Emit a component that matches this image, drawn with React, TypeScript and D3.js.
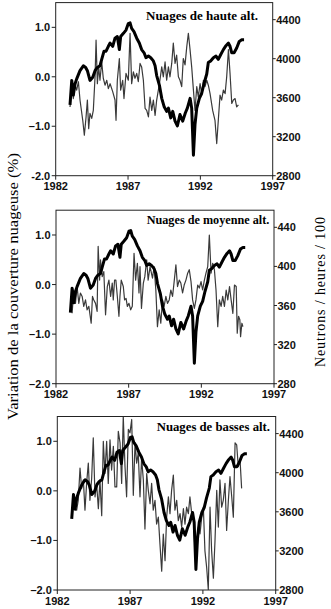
import React from "react";
import * as d3 from "d3";

// Neutron counts (thick line) — same series in all panels
const neutronYears = [1982.99,1983.11,1983.22,1983.34,1983.45,1983.68,1983.91,1984.07,1984.19,1984.37,1984.56,1984.72,1984.88,1985.06,1985.18,1985.34,1985.48,1985.64,1985.76,1985.94,1986.10,1986.26,1986.40,1986.49,1986.68,1986.86,1987.02,1987.14,1987.25,1987.41,1987.60,1987.78,1987.94,1988.11,1988.24,1988.41,1988.57,1988.75,1988.87,1988.98,1989.17,1989.33,1989.49,1989.67,1989.79,1989.95,1990.09,1990.25,1990.41,1990.59,1990.78,1990.96,1991.10,1991.29,1991.40,1991.52,1991.63,1991.75,1991.93,1992.09,1992.25,1992.44,1992.55,1992.71,1992.90,1993.08,1993.24,1993.41,1993.59,1993.77,1993.94,1994.05,1994.17,1994.33,1994.51,1994.69,1994.86,1995.02];
const neutronCounts = [3527,3777,3627,3743,3793,3877,3927,3910,3877,3777,3810,3877,3910,3927,3993,4077,4077,4127,4160,4127,4210,4227,4093,4227,4260,4293,4360,4367,4310,4277,4210,4160,4093,4060,4010,4027,4010,3977,3927,3827,3727,3593,3510,3460,3493,3393,3460,3360,3310,3427,3360,3443,3493,3593,3493,3010,3327,3493,3593,3643,3743,3843,3960,3977,4010,4027,3993,4043,4093,4133,4160,4127,4060,4060,4110,4177,4193,4193];

// High clouds
const highYears = [1982.99,1983.11,1983.22,1983.34,1983.45,1983.57,1983.68,1983.87,1983.98,1984.10,1984.19,1984.28,1984.37,1984.49,1984.60,1984.72,1984.79,1984.88,1984.97,1985.06,1985.18,1985.29,1985.41,1985.53,1985.64,1985.76,1985.94,1986.10,1986.17,1986.26,1986.40,1986.49,1986.63,1986.72,1986.86,1987.02,1987.14,1987.25,1987.37,1987.48,1987.60,1987.71,1987.83,1987.94,1988.06,1988.18,1988.29,1988.41,1988.52,1988.64,1988.75,1988.87,1988.98,1989.17,1989.33,1989.44,1989.56,1989.67,1989.79,1989.90,1990.02,1990.13,1990.25,1990.36,1990.48,1990.59,1990.71,1990.82,1990.94,1991.06,1991.17,1991.29,1991.40,1991.52,1991.63,1991.75,1991.86,1991.98,1992.09,1992.21,1992.32,1992.44,1992.55,1992.67,1992.85,1993.01,1993.13,1993.24,1993.36,1993.47,1993.59,1993.71,1993.82,1993.94,1994.05,1994.17,1994.28,1994.40,1994.51,1994.63];
const highValues = [-0.61,-0.20,-0.44,-0.17,-0.27,-0.10,-0.47,-0.88,-1.18,-0.81,-0.47,-1.05,-0.74,-0.84,-0.68,0.00,0.74,-0.14,0.20,-0.07,0.30,-0.03,-0.17,-0.07,-0.24,-0.14,-0.30,-0.47,-0.88,-0.07,0.37,-0.27,-0.07,-0.44,0.07,-0.07,0.88,-0.14,0.10,-0.03,0.07,-0.10,0.27,0.20,-0.07,-0.64,-0.68,-0.81,-0.41,-0.68,-0.47,-0.78,-0.47,-0.14,0.20,0.00,0.30,-0.07,0.20,0.00,0.27,0.68,0.27,0.44,0.00,-0.07,-0.20,0.37,0.24,0.61,0.88,0.54,0.20,-0.27,-0.68,-0.20,-0.41,-0.14,-0.34,-0.07,-0.20,-0.07,-0.17,-0.34,-0.68,-0.88,-1.35,-0.88,-0.37,-0.47,-0.27,-0.34,0.00,0.55,0.07,-0.54,-0.47,-0.44,-0.61,-0.57];

// Middle clouds
const midYears = [1983.11,1983.22,1983.34,1983.45,1983.57,1983.68,1983.80,1983.91,1984.03,1984.14,1984.26,1984.42,1984.51,1984.60,1984.72,1984.83,1984.90,1985.00,1985.06,1985.18,1985.29,1985.41,1985.53,1985.64,1985.76,1985.87,1985.94,1986.03,1986.12,1986.22,1986.33,1986.40,1986.49,1986.63,1986.72,1986.82,1986.91,1987.02,1987.14,1987.25,1987.37,1987.48,1987.60,1987.71,1987.78,1987.88,1988.01,1988.11,1988.24,1988.34,1988.47,1988.64,1988.75,1988.87,1988.98,1989.10,1989.21,1989.33,1989.44,1989.56,1989.67,1989.79,1989.90,1990.02,1990.13,1990.25,1990.36,1990.48,1990.59,1990.71,1990.82,1990.94,1991.06,1991.17,1991.29,1991.40,1991.52,1991.63,1991.75,1991.86,1991.98,1992.09,1992.21,1992.32,1992.44,1992.55,1992.67,1992.78,1992.90,1993.01,1993.13,1993.24,1993.36,1993.47,1993.59,1993.71,1993.82,1993.94,1994.05,1994.17,1994.28,1994.40,1994.47,1994.56,1994.65,1994.70,1994.79,1994.86];
const midValues = [-0.58,-0.11,-0.38,-0.04,-0.38,-0.17,-0.24,-0.44,-0.31,-0.51,-0.44,-0.78,-0.24,-0.31,-0.38,-0.54,0.77,0.09,0.50,0.16,0.26,-0.61,-0.04,0.09,-0.24,0.03,-0.31,0.09,0.09,-0.24,-0.64,-0.24,0.09,-0.04,-0.31,-0.28,-0.44,-0.38,-0.51,-0.44,0.63,0.09,0.43,-0.17,0.36,-0.48,0.03,0.16,0.50,0.09,0.36,0.13,0.36,-0.11,-0.85,-0.51,-0.78,-0.31,-0.44,-0.24,-0.38,-0.31,-0.11,-0.24,0.06,0.40,-0.04,0.09,0.03,-0.17,-0.01,0.09,0.23,0.30,0.06,-0.31,-0.48,-0.31,-0.01,-0.07,0.06,-0.11,0.09,0.23,0.36,1.00,0.23,0.43,0.30,-0.11,-0.85,-0.31,-0.44,-0.24,-0.44,-0.11,-0.31,-0.04,-0.31,-0.58,-0.01,-0.04,-0.98,-0.64,-0.71,-1.05,-0.78,-0.85];

// Low clouds
const lowYears = [1983.14,1983.33,1983.44,1983.56,1983.67,1983.79,1983.90,1984.02,1984.13,1984.24,1984.36,1984.47,1984.59,1984.70,1984.82,1984.93,1985.05,1985.16,1985.27,1985.39,1985.50,1985.62,1985.73,1985.85,1985.96,1986.08,1986.19,1986.31,1986.42,1986.53,1986.65,1986.76,1986.88,1986.99,1987.11,1987.22,1987.34,1987.45,1987.56,1987.68,1987.79,1987.91,1988.02,1988.14,1988.25,1988.37,1988.48,1988.59,1988.71,1988.82,1988.94,1989.05,1989.17,1989.28,1989.40,1989.51,1989.63,1989.74,1989.85,1989.97,1990.08,1990.20,1990.31,1990.43,1990.54,1990.66,1990.77,1990.88,1991.00,1991.11,1991.23,1991.34,1991.46,1991.57,1991.69,1991.80,1991.92,1992.03,1992.14,1992.26,1992.37,1992.49,1992.60,1992.72,1992.83,1992.95,1993.06,1993.17,1993.29,1993.40,1993.52,1993.63,1993.75,1993.86,1993.98,1994.09,1994.21,1994.32,1994.43,1994.55,1994.66];
const lowValues = [-0.33,-0.39,-0.19,0.46,0.05,0.22,-0.39,0.18,0.56,-0.19,0.25,1.07,-0.12,0.15,-0.36,0.22,-0.50,1.00,0.35,1.00,0.15,1.03,0.42,0.90,0.08,0.08,1.20,0.97,0.15,1.51,0.49,-0.12,1.24,1.17,1.44,-0.09,0.97,0.56,0.76,-0.12,0.66,0.22,-0.77,0.35,0.01,-0.26,0.15,-0.39,-0.19,-0.67,-0.53,-1.07,-1.62,-0.87,-1.41,-0.53,-0.12,-0.46,0.01,0.32,-0.39,-0.19,-0.60,-0.46,-0.73,-0.36,-0.67,-0.33,-0.46,-0.12,-0.46,-0.53,-1.21,-1.35,-0.73,-0.87,-0.53,-0.33,-1.21,-1.55,-1.99,-0.33,-1.21,-1.76,-1.01,0.01,-0.73,0.22,-0.33,-0.19,0.15,-0.80,-0.19,0.29,-0.12,-0.53,0.97,0.93,0.49,0.63,0.05];

// Axes
const xTicks = [1982, 1987, 1992, 1997];
const leftTicks = [1.0, 0.0, -1.0, -2.0];
const leftTickLabelsTop = ["1.0", "0.0", "\u20131.0", "-2.0"];
const leftTickLabels = ["1.0", "0.0", "\u20131.0", "\u20132.0"];
const rightTicksCounts = [2800, 3200, 3600, 4000, 4400];
const rightTicksRate = [280, 320, 360, 400, 440];
const panelTitles = ["Nuages de haute alt.", "Nuages de moyenne alt.", "Nuages de basses alt."];
const leftAxisTitle = "Variation de la couverture nuageuse (%)";
const rightAxisTitle = "Neutrons / heures / 100";

const SANS = "'Liberation Sans', Arial, Helvetica, sans-serif";
const SERIF = "'Liberation Serif', 'Times New Roman', Times, serif";

type PanelSpec = {
  id: string;
  L: number; R: number; T: number; B: number;
  rightDomain: [number, number];
  rightTicks: number[];
  divisor: number;
  leftLabels: string[];
  title: string;
  titleX: number; titleY: number; titleLen: number;
  thinYears: number[];
  thinValues: number[];
};

function Panel({ p }: { p: PanelSpec }) {
  const x = d3.scaleLinear().domain([1982, 1997]).range([p.L, p.R]);
  const yL = d3.scaleLinear().domain([-2, 1.5]).range([p.B, p.T]);
  const yR = d3.scaleLinear().domain(p.rightDomain).range([p.B, p.T]);

  const thin: [number, number][] = p.thinYears
    .slice(0, Math.min(p.thinYears.length, p.thinValues.length))
    .map((yr, i) => [yr, p.thinValues[i]]);
  const thick: [number, number][] = neutronYears
    .slice(0, Math.min(neutronYears.length, neutronCounts.length))
    .map((yr, i) => [yr, neutronCounts[i] / p.divisor]);

  const thinLine = d3.line<[number, number]>().x((d) => x(d[0])).y((d) => yL(d[1]));
  const thickLine = d3.line<[number, number]>().x((d) => x(d[0])).y((d) => yR(d[1]));

  return (
    <g>
      <defs>
        <clipPath id={`clip-${p.id}`}>
          <rect x={p.L} y={p.T} width={p.R - p.L} height={p.B - p.T} />
        </clipPath>
      </defs>
      <g clipPath={`url(#clip-${p.id})`}>
        <path d={thinLine(thin) || ""} fill="none" stroke="#3a3a3a" strokeWidth={1.2} strokeLinejoin="round" />
        <path d={thickLine(thick) || ""} fill="none" stroke="#000" strokeWidth={3} strokeLinejoin="round" />
      </g>
      <rect x={p.L} y={p.T} width={p.R - p.L} height={p.B - p.T} fill="none" stroke="#222" strokeWidth={1} />
      {/* Left axis */}
      {leftTicks.map((t, i) => (
        <g key={`l${i}`}>
          <line x1={p.L - 4} x2={p.L} y1={yL(t)} y2={yL(t)} stroke="#222" strokeWidth={1} />
          <text x={p.L - 5.5} y={yL(t) + 4} textAnchor="end" fontFamily={SANS} fontSize={11} fontWeight="bold" fill="#111">
            {p.leftLabels[i]}
          </text>
        </g>
      ))}
      {/* Right axis */}
      {p.rightTicks.map((t, i) => (
        <g key={`r${i}`}>
          <line x1={p.R} x2={p.R + 3} y1={yR(t)} y2={yR(t)} stroke="#222" strokeWidth={1} />
          <text x={p.R + 3.5} y={yR(t) + 4} textAnchor="start" fontFamily={SANS} fontSize={11} fontWeight="bold" fill="#111">
            {t}
          </text>
        </g>
      ))}
      {/* Bottom axis */}
      {xTicks.map((t, i) => (
        <g key={`x${i}`}>
          <line x1={x(t)} x2={x(t)} y1={p.B} y2={p.B + 4} stroke="#222" strokeWidth={1} />
          <text x={x(t)} y={p.B + 14.5} textAnchor="middle" fontFamily={SANS} fontSize={11} fontWeight="bold" fill="#111">
            {t}
          </text>
        </g>
      ))}
      <text x={p.titleX} y={p.titleY} textAnchor="end" fontFamily={SERIF} fontSize={12} fontWeight="bold" fill="#000"
        textLength={p.titleLen} lengthAdjust="spacingAndGlyphs">
        {p.title}
      </text>
    </g>
  );
}

export default function App() {
  const panels: PanelSpec[] = [
    { id: "p1", L: 55.7, R: 272.7, T: 2.6, B: 175.7, rightDomain: [2800, 4575], rightTicks: rightTicksCounts, divisor: 1,
      leftLabels: leftTickLabelsTop, title: panelTitles[0], titleX: 258, titleY: 19.5, titleLen: 112,
      thinYears: highYears, thinValues: highValues },
    { id: "p2", L: 56, R: 274, T: 210.2, B: 383.7, rightDomain: [280, 457.5], rightTicks: rightTicksRate, divisor: 10,
      leftLabels: leftTickLabels, title: panelTitles[1], titleX: 269.3, titleY: 223.5, titleLen: 122.6,
      thinYears: midYears, thinValues: midValues },
    { id: "p3", L: 57.3, R: 275.7, T: 416.5, B: 590, rightDomain: [2800, 4575], rightTicks: rightTicksCounts, divisor: 1,
      leftLabels: leftTickLabels, title: panelTitles[2], titleX: 270, titleY: 430.5, titleLen: 113.3,
      thinYears: lowYears, thinValues: lowValues },
  ];
  return (
    <svg width={331} height={609} style={{ position: "absolute", left: 0, top: 0, display: "block", background: "#fff" }}>
      <rect x={0} y={0} width={331} height={609} fill="#fff" />
      {panels.map((p) => (
        <Panel key={p.id} p={p} />
      ))}
      <text transform="translate(17.5,286.5) rotate(-90)" textAnchor="middle" fontFamily={SERIF} fontSize={15} fill="#000"
        textLength={267} lengthAdjust="spacingAndGlyphs">
        {leftAxisTitle}
      </text>
      <text transform="translate(324.5,292) rotate(-90)" textAnchor="middle" fontFamily={SERIF} fontSize={14} fill="#000"
        textLength={150} lengthAdjust="spacing">
        {rightAxisTitle}
      </text>
    </svg>
  );
}
